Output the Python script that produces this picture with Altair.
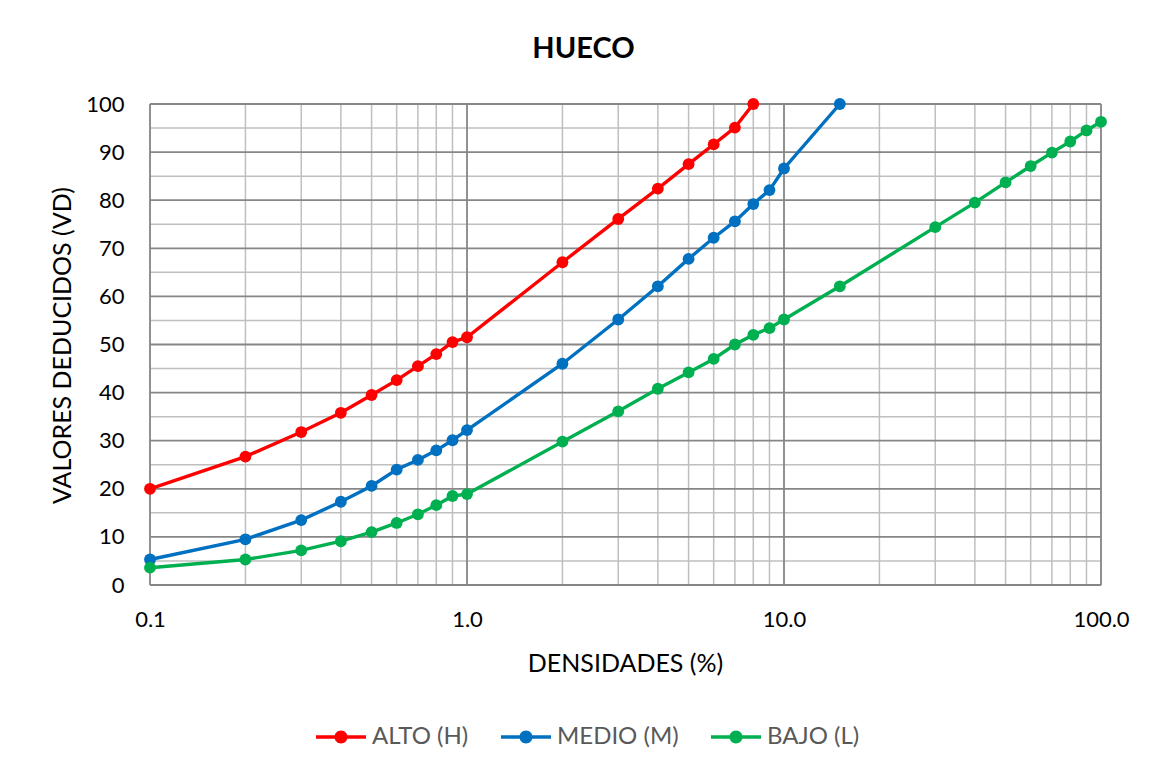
import altair as alt
import pandas as pd

# ---- data ----
series_names = ["ALTO (H)", "MEDIO (M)", "BAJO (L)"]
series_colors = ["#FF0000", "#0070C0", "#00B050"]

x_alto = [0.1, 0.2, 0.3, 0.4, 0.5, 0.6, 0.7, 0.8, 0.9, 1.0, 2, 3, 4, 5, 6, 7, 8]
vd_alto = [20.0, 26.7, 31.8, 35.8, 39.5, 42.6, 45.5, 48.0, 50.5, 51.5,
           67.1, 76.1, 82.4, 87.5, 91.6, 95.1, 100.0]

x_medio = [0.1, 0.2, 0.3, 0.4, 0.5, 0.6, 0.7, 0.8, 0.9, 1.0,
           2, 3, 4, 5, 6, 7, 8, 9, 10, 15]
vd_medio = [5.3, 9.5, 13.5, 17.3, 20.6, 24.0, 26.0, 28.0, 30.1, 32.2,
            46.0, 55.2, 62.1, 67.8, 72.2, 75.6, 79.2, 82.1, 86.6, 100.0]

x_bajo = [0.1, 0.2, 0.3, 0.4, 0.5, 0.6, 0.7, 0.8, 0.9, 1.0,
          2, 3, 4, 5, 6, 7, 8, 9, 10, 15, 30, 40, 50, 60, 70, 80, 90, 100]
vd_bajo = [3.6, 5.3, 7.2, 9.1, 11.0, 12.9, 14.7, 16.6, 18.5, 18.9,
           29.8, 36.1, 40.8, 44.2, 47.0, 50.0, 52.0, 53.4, 55.2, 62.1,
           74.4, 79.5, 83.7, 87.1, 89.9, 92.2, 94.5, 96.3]

x_ticks = [0.1, 1, 10, 100]
y_ticks = [0, 10, 20, 30, 40, 50, 60, 70, 80, 90, 100]
x_grid_minor = [0.2, 0.3, 0.4, 0.5, 0.6, 0.7, 0.8, 0.9,
                2, 3, 4, 5, 6, 7, 8, 9,
                20, 30, 40, 50, 60, 70, 80, 90]
y_grid_minor = [5, 15, 25, 35, 45, 55, 65, 75, 85, 95]

# ---- tables ----
rows = []
for name, xs, ys in [(series_names[0], x_alto, vd_alto),
                     (series_names[1], x_medio, vd_medio),
                     (series_names[2], x_bajo, vd_bajo)]:
    for i, (a, b) in enumerate(zip(xs, ys)):
        rows.append({"serie": name, "dens": a, "vd": b, "i": i})
df = pd.DataFrame(rows)

FONT = "Lato"
W, H = 951, 481
xscale = alt.Scale(type="log", domain=[0.1, 100], nice=False)
yscale = alt.Scale(domain=[0, 100], nice=False, zero=False)
cscale = alt.Scale(domain=series_names, range=series_colors)

minor_col = "#BFBFBF"
major_col = "#868686"

x_axis = alt.Axis(
    values=x_ticks, format=".1f", grid=False, domain=False, ticks=False,
    tickSize=0, labelPadding=24, labelFont=FONT, labelFontSize=22,
    labelColor="#000000", labelBaseline="top",
    title="DENSIDADES (%)", titleFont=FONT, titleFontSize=25,
    titleFontWeight="normal", titleColor="#000000",
    titleX=475, titleY=86, titleAlign="center", titleBaseline="alphabetic",
    labelOverlap=False, labelFlush=False,
)
y_axis = alt.Axis(
    values=y_ticks, grid=False, domain=False, ticks=False, tickSize=0,
    labelPadding=26, labelFont=FONT, labelFontSize=22, labelColor="#000000",
    title="VALORES DEDUCIDOS (VD)", titleFont=FONT, titleFontSize=25,
    titleFontWeight="normal", titleColor="#000000",
    titleX=-80, titleY=241, titleAngle=270, titleAlign="center",
    titleBaseline="alphabetic", labelOverlap=False, labelFlush=False,
)
legend = alt.Legend(
    title=None,
    orient="none",
    direction="horizontal",
    legendX=166,
    legendY=608,
    symbolType="M-1,-0.07L1,-0.07L1,0.07L-1,0.07Z"
               "M0.26,0A0.26,0.26 0 1 1 -0.26,0A0.26,0.26 0 1 1 0.26,0Z",
    symbolSize=2500,
    symbolStrokeWidth=0,
    symbolOpacity=1,
    labelFont=FONT,
    labelFontSize=24,
    labelColor="#595959",
    labelOffset=6,
    columnPadding=32,
)

vminor = alt.Chart(pd.DataFrame({"dens": x_grid_minor})).mark_rule(
    color=minor_col, strokeWidth=1.5).encode(
    x=alt.X("dens:Q", scale=xscale, axis=x_axis))
hminor = alt.Chart(pd.DataFrame({"vd": y_grid_minor})).mark_rule(
    color=minor_col, strokeWidth=1.5).encode(
    y=alt.Y("vd:Q", scale=yscale, axis=y_axis))
vmajor = alt.Chart(pd.DataFrame({"dens": x_ticks})).mark_rule(
    color=major_col, strokeWidth=1.8).encode(
    x=alt.X("dens:Q", scale=xscale, axis=x_axis))
hmajor = alt.Chart(pd.DataFrame({"vd": y_ticks})).mark_rule(
    color=major_col, strokeWidth=1.8).encode(
    y=alt.Y("vd:Q", scale=yscale, axis=y_axis))

points = alt.Chart(df).mark_point(filled=True, size=140, opacity=1).encode(
    x=alt.X("dens:Q", scale=xscale, axis=x_axis),
    y=alt.Y("vd:Q", scale=yscale, axis=y_axis),
    color=alt.Color("serie:N", scale=cscale, sort=series_names, legend=legend))
lines = alt.Chart(df).mark_line(strokeWidth=3.4).encode(
    x=alt.X("dens:Q", scale=xscale, axis=x_axis),
    y=alt.Y("vd:Q", scale=yscale, axis=y_axis),
    color=alt.Color("serie:N", scale=cscale, sort=series_names, legend=legend),
    order="i:Q")

chart = alt.layer(vminor, hminor, vmajor, hmajor, lines, points).properties(
    width=W, height=H,
    title=alt.TitleParams(
        "HUECO", font=FONT, fontSize=29, fontWeight="bold", color="#000000",
        anchor="middle", frame="group", dx=-42, offset=6, baseline="alphabetic"),
    autosize=alt.AutoSizeParams(type="none"),
    padding={"left": 142, "top": 96, "right": 48, "bottom": 178},
).configure_view(stroke=None).configure(background="#FFFFFF")

chart.save("out.html", embed_options={"renderer": "svg", "actions": False})
